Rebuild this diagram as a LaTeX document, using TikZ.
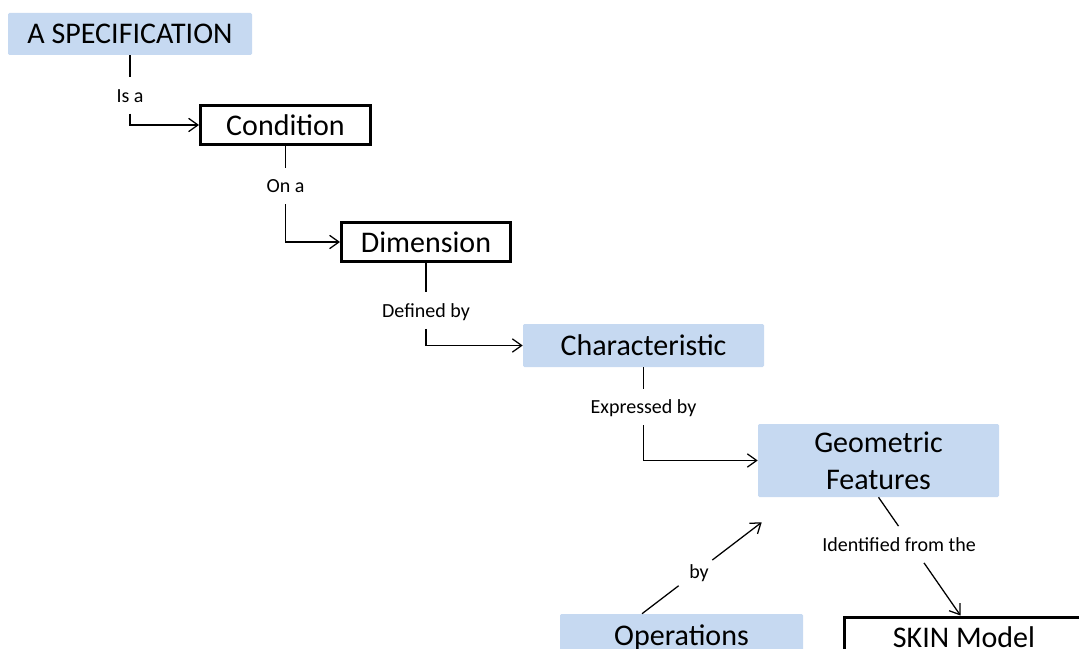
\documentclass[tikz,border=0pt]{standalone}
\usepackage{fontspec}
\setmainfont{Carlito}
\usetikzlibrary{arrows.meta,calc}
\definecolor{conceptblue}{HTML}{C6D9F1}

\tikzset{
  concept/.style={fill=conceptblue, rounded corners=1pt, inner sep=0pt,
    align=center, font=\fontsize{22.5}{27.5}\selectfont},
  framed/.style={draw=black, fill=white, line width=2.25pt, inner sep=0pt,
    align=center, font=\fontsize{22.5}{27.5}\selectfont},
  lbl/.style={inner sep=0pt, minimum height=27pt, text height=13pt,
    text depth=2.5pt, font=\fontsize{15}{18}\selectfont},
  dlbl/.style={inner sep=0pt, font=\fontsize{15}{18}\selectfont},
  link/.style={line width=0.95pt},
  arr/.style={link, -{Straight Barb[length=7pt,width=10pt]}}
}

\begin{document}
\begin{tikzpicture}[x=0.75pt,y=-0.75pt]
  \useasboundingbox (0,0) rectangle (1079,649);
  \clip (0,0) rectangle (1079,649);

  % concepts
  \node[concept, minimum width=183pt, minimum height=31.5pt] (spec) at (130,34) {A SPECIFICATION};
  \node[framed, minimum width=127.5pt, minimum height=29.25pt] (cond) at (285.5,125) {Condition};
  \node[framed, minimum width=126.75pt, minimum height=29.25pt] (dim) at (426,242) {Dimension};
  \node[concept, minimum width=180.75pt, minimum height=32.25pt] (char) at (643.5,345.5) {Characteristic};
  \node[concept, minimum width=180.75pt, minimum height=54.75pt] (geo) at (878.5,460.5) {Geometric\\Features};
  \node[concept, minimum width=182.25pt, minimum height=36pt] (ops) at (681.5,638) {Operations};
  % the model box runs past the right edge of the page
  \node[framed, minimum width=202.5pt, minimum height=30pt] (skin) at (979,637) {SKIN Model\hspace*{22.5pt}};
  \coordinate (skintop) at ($(skin.north west)+(118,0)$);

  % link labels on the elbow connectors
  \node[lbl] (isa) at ($(spec.south)+(0,40)$) {Is a};
  \node[lbl] (ona) at ($(cond.south)+(0,40)$) {On a};
  \node[lbl] (defby) at ($(dim.south)+(0,47.5)$) {Defined by};
  \node[lbl] (expby) at ($(char.south)+(0,39.5)$) {Expressed by};

  % elbow connectors
  \draw[link] (spec.south) -- (isa.north);
  \draw[arr] (isa.south) |- (cond.west);
  \draw[link] (cond.south) -- (ona.north);
  \draw[arr] (ona.south) |- (dim.west);
  \draw[link] (dim.south) -- (defby.north);
  \draw[arr] (defby.south) |- (char.west);
  \draw[link] (char.south) -- (expby.north);
  \draw[arr] (expby.south) |- (geo.west);

  % diagonal connector: features to model
  \draw[link] (geo.south) -- ($(geo.south)!0.244!(skintop)$);
  \draw[arr] ($(geo.south)!0.555!(skintop)$) -- (skintop);
  \node[dlbl] (idfrom) at (899,545) {Identified from the};

  % diagonal connector: operations to features
  \coordinate (bystart) at ($(ops.north)+(-39.5,0)$);
  \coordinate (byend) at ($(geo.south west)+(4,25)$);
  \draw[link] (bystart) -- ($(bystart)!0.306!(byend)$);
  \draw[arr] ($(bystart)!0.587!(byend)$) -- (byend);
  \node[dlbl] (by) at (699,573) {by};
\end{tikzpicture}
\end{document}
